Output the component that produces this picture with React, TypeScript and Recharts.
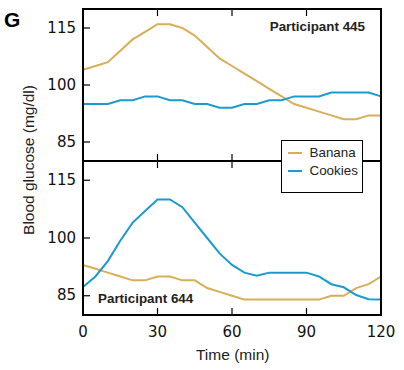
import React from 'react';
import { LineChart, Line, XAxis, YAxis, Legend } from 'recharts';

const minutes = [0, 5, 10, 15, 20, 25, 30, 35, 40, 45, 50, 55, 60, 65, 70, 75, 80, 85, 90, 95, 100, 105, 110, 115, 120];

// participant 445
const banana445 = [104, 105, 106, 109, 112, 114, 116, 116, 115, 113, 110, 107, 105, 103, 101, 99, 97, 95, 94, 93, 92, 91, 91, 92, 92];
const cookies445 = [95, 95, 95, 96, 96, 97, 97, 96, 96, 95, 95, 94, 94, 95, 95, 96, 96, 97, 97, 97, 98, 98, 98, 98, 97];

// participant 644
const banana644 = [93, 92, 91, 90, 89, 89, 90, 90, 89, 89, 87, 86, 85, 84, 84, 84, 84, 84, 84, 84, 85, 85, 87, 88, 90];
const cookies644 = [87.3, 90, 94, 99.3, 104, 107, 110, 110, 108, 104, 100, 96, 93, 91, 90.2, 91, 91, 91, 91, 90, 88, 87.2, 85.2, 84.1, 84];

const xTicks = [0, 30, 60, 90, 120];
const yTicks = [85, 100, 115];

const BANANA = '#d8ae57';
const COOKIES = '#1a9bd0';

const topData = minutes.map((t, i) => ({ t, banana: banana445[i], cookies: cookies445[i] }));
const bottomData = minutes.map((t, i) => ({ t, banana: banana644[i], cookies: cookies644[i] }));

const frame = { stroke: '#000', strokeWidth: 2, strokeLinecap: 'square' as const };
const tickFont = '"DejaVu Sans", sans-serif';
const labelFont = '"Liberation Sans", Arial, sans-serif';
const TL = 7;

const leftTick = (p: any) => (
  <g>
    <line x1={p.x} y1={p.y} x2={p.x + TL} y2={p.y} stroke="#000" strokeWidth={1.2} />
    <text x={p.x - 7} y={p.y + 4.5} textAnchor="end" fontFamily={tickFont} fontSize={15} fill="#111">
      {p.payload.value}
    </text>
  </g>
);
const rightTick = (p: any) => (
  <line x1={p.x} y1={p.y} x2={p.x - TL} y2={p.y} stroke="#000" strokeWidth={1.2} />
);
const topTick = (p: any) => (
  <line x1={p.x} y1={p.y} x2={p.x} y2={p.y + TL} stroke="#000" strokeWidth={1.2} />
);
const bottomTickPlain = (p: any) => (
  <line x1={p.x} y1={p.y} x2={p.x} y2={p.y - TL} stroke="#000" strokeWidth={1.2} />
);
const bottomTickLabel = (p: any) => (
  <g>
    <line x1={p.x} y1={p.y} x2={p.x} y2={p.y - TL} stroke="#000" strokeWidth={1.2} />
    <text x={p.x} y={p.y + 22} textAnchor="middle" fontFamily={tickFont} fontSize={15} fill="#111">
      {p.payload.value}
    </text>
  </g>
);

const LegendBox = (props: any) => (
  <div
    style={{
      width: 82,
      height: 53,
      boxSizing: 'border-box',
      border: '1.5px solid #000',
      background: '#fff',
      padding: '2.5px 0 0 5.5px',
      fontFamily: labelFont,
      fontSize: 13.4,
      color: '#222',
    }}
  >
    {(props.payload || []).map((p: any) => (
      <div key={p.value} style={{ display: 'flex', alignItems: 'center', height: 18 }}>
        <span style={{ display: 'inline-block', width: 14, height: 2, background: p.color, marginRight: 8 }} />
        {p.value}
      </div>
    ))}
  </div>
);

const Panel = ({ data, bottom }: { data: any[]; bottom: boolean }) => (
  <LineChart
    width={404}
    height={bottom ? 210 : 170}
    data={data}
    margin={{ top: bottom ? 0 : 8, right: 22, bottom: bottom ? 0 : 8, left: 0 }}
  >
    <XAxis
      xAxisId="b"
      dataKey="t"
      type="number"
      domain={[0, 120]}
      ticks={xTicks}
      interval={0}
      orientation="bottom"
      height={bottom ? 55 : 1}
      tickSize={0}
      tickMargin={0}
      tickLine={false}
      axisLine={frame}
      tick={bottom ? bottomTickLabel : bottomTickPlain}
    />
    <XAxis
      xAxisId="t"
      dataKey="t"
      type="number"
      domain={[0, 120]}
      ticks={xTicks}
      interval={0}
      orientation="top"
      height={1}
      tickSize={0}
      tickMargin={0}
      tickLine={false}
      axisLine={frame}
      tick={topTick}
    />
    <YAxis
      yAxisId="l"
      type="number"
      domain={[80, 120]}
      ticks={yTicks}
      interval={0}
      width={83}
      tickSize={0}
      tickMargin={0}
      tickLine={false}
      axisLine={frame}
      tick={leftTick}
    />
    <YAxis
      yAxisId="r"
      orientation="right"
      type="number"
      domain={[80, 120]}
      ticks={yTicks}
      interval={0}
      width={1}
      tickSize={0}
      tickMargin={0}
      tickLine={false}
      axisLine={frame}
      tick={rightTick}
    />
    <Line xAxisId="b" yAxisId="l" type="linear" dataKey="banana" name="Banana" stroke={BANANA} strokeWidth={2} dot={false} isAnimationActive={false} />
    <Line xAxisId="b" yAxisId="l" type="linear" dataKey="cookies" name="Cookies" stroke={COOKIES} strokeWidth={2} dot={false} isAnimationActive={false} />
    {bottom && (
      <Legend
        layout="vertical"
        align="center"
        verticalAlign="middle"
        content={LegendBox}
        wrapperStyle={{ left: 281, top: -20, width: 82, height: 53 }}
      />
    )}
  </LineChart>
);

export default function App() {
  return (
    <div style={{ position: 'absolute', left: 0, top: 0, width: 404, height: 370, background: '#fff' }}>
      <div style={{ position: 'absolute', left: 0, top: 0 }}>
        <Panel data={topData} bottom={false} />
      </div>
      <div style={{ position: 'absolute', left: 0, top: 160 }}>
        <Panel data={bottomData} bottom />
      </div>
      <svg width={404} height={370} style={{ position: 'absolute', left: 0, top: 0, pointerEvents: 'none' }}>
        <text x={4} y={27} fontFamily={labelFont} fontWeight="bold" fontSize={21} fill="#000">G</text>
        <text
          transform="translate(34,160) rotate(-90)"
          textAnchor="middle"
          fontFamily={labelFont}
          fontSize={15.5}
          fill="#222"
        >
          Blood glucose (mg/dl)
        </text>
        <text x={232.7} y={360} textAnchor="middle" fontFamily={labelFont} fontSize={15.5} fill="#222">
          Time (min)
        </text>
        <text x={365} y={31} textAnchor="end" fontFamily={labelFont} fontWeight="bold" fontSize={13.4} fill="#222">
          Participant 445
        </text>
        <text x={98} y={302.7} fontFamily={labelFont} fontWeight="bold" fontSize={13.4} fill="#222">
          Participant 644
        </text>
      </svg>
    </div>
  );
}
